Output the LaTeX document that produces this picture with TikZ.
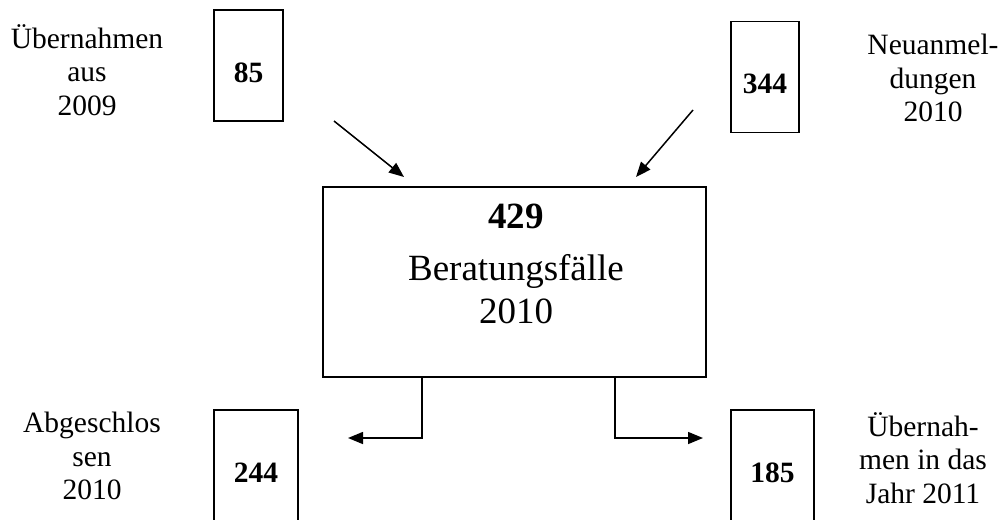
\documentclass[tikz,border=0pt]{standalone}
\usepackage{fontspec}
\setmainfont{Liberation Serif}
\usetikzlibrary{arrows.meta}

\begin{document}
\begin{tikzpicture}[->,>={Triangle[length=15pt,width=12pt]}, line width = 1.5pt,
x=1pt, y=-1pt,
numbox/.style={draw, rectangle, inner sep=0pt, minimum height=111pt,
  font=\fontsize{29.5}{34}\selectfont\bfseries, text height=33pt, text depth=0pt},
tag/.style={align=center, anchor=north, inner sep=0pt,
  font=\fontsize{29.5}{33.5}\selectfont,
  execute at begin node=\strut, execute at end node=\strut}]

\useasboundingbox (0,0) rectangle (1003,519);
\clip (0,0) rectangle (1003,519);

\node [numbox, minimum width=69pt] (n85) at (248.5,65.5) {85};
\node [numbox, minimum width=68pt] (n344) at (765,77) {344};
\node [numbox, minimum width=84pt] (n244) at (256,465.5) {244};
\node [numbox, minimum width=83pt] (n185) at (772.5,465.5) {185};

\node [tag] (t85) at (87,23.5) {Übernahmen\\aus\\2009};
\node [tag] (t344) at (933,33.5) {Neuanmel-\\dungen\\2010};
\node [tag] (t244) at (92,411.5) {Abgeschlos\\sen\\2010};
\node [tag] (t185) at (923,411.5) {Übernah-\\men in das\\Jahr 2011};

\node [draw, rectangle, inner sep=0pt, minimum width=383pt, minimum height=190pt] (mid) at (514.5,282) {};
\node [align=center, anchor=north, inner sep=0pt, font=\fontsize{37}{43}\selectfont,
  execute at begin node=\strut, execute at end node=\strut] (midtext) at (516,202.9)
  {\textbf{429}\\[9pt]Beratungsfälle\\2010};

\coordinate (from85) at (334,121);
\coordinate (to85) at (404,177);
\draw (from85) -- (to85);
\coordinate (from344) at (693,110);
\coordinate (to344) at (636,177);
\draw (from344) -- (to344);

\coordinate (bendl) at (422,438);
\coordinate (endl) at (348,438);
\draw (bendl |- mid.south) -- (bendl) -- (endl);
\coordinate (bendr) at (615,438);
\coordinate (endr) at (703,438);
\draw (bendr |- mid.south) -- (bendr) -- (endr);

\end{tikzpicture}
\end{document}
